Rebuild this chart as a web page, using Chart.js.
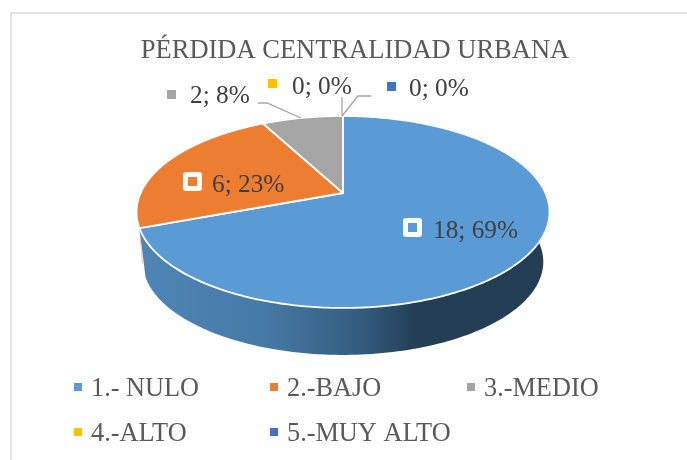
<!DOCTYPE html>
<html>
<head>
<meta charset="utf-8">
<style>html,body{margin:0;padding:0;background:#fff}canvas{display:block}</style>
<script src="https://cdn.jsdelivr.net/npm/chart.js@4"></script>
</head>
<body>
<canvas id="c" width="687" height="460"></canvas>
<script>
const titleText = "PÉRDIDA CENTRALIDAD URBANA";
const categories = ["1.- NULO", "2.-BAJO", "3.-MEDIO", "4.-ALTO", "5.-MUY ALTO"];
const seriesValues = [18, 6, 2, 0, 0];
const percentLabels = ["69%", "23%", "8%", "0%", "0%"];
const sliceColors = ["#5B9BD5", "#ED7D31", "#A5A5A5", "#FFC000", "#4472C4"];

const SERIF = '"Liberation Serif", "Times New Roman", serif';

// perspective of the tilted disc
const RX = 202.4, RY = 92.2, PERSP = 0.198;
const WALL_DROP = 50.4, WALL_SCALE = 0.97;
function proj(cx, cy, a, k, drop) {
  const d = 1 - PERSP * Math.sin(a);
  return [cx + k * RX * Math.cos(a) / d, cy + drop + k * RY * Math.sin(a) / d];
}

const disc3d = {
  id: 'disc3d',
  beforeDraw(chart) {
    // title is centred a little right of the canvas centre
    chart.titleBlock.left = 24;
  },
  beforeDatasetDraw(chart, args) {
    const ctx = chart.ctx;
    const arcs = args.meta.data.map(e => e.getProps(['x','y','startAngle','endAngle']));
    ctx.save();
    // thin remnant of the orange wall
    {
      const p = arcs[1];
      const t = proj(p.x, p.y, p.startAngle, 1, 0);
      const b = proj(p.x, p.y, p.startAngle, 0.985, 36);
      ctx.strokeStyle = '#F6C6A5';
      ctx.lineWidth = 1;
      ctx.beginPath();
      ctx.moveTo(t[0], t[1]);
      ctx.lineTo(b[0], b[1]);
      ctx.stroke();
    }
    // side wall of the largest slice
    {
      const p = arcs[0];
      const n = 200, top = [], low = [];
      for (let s = 0; s <= n; s++) {
        const a = p.startAngle + (p.endAngle - p.startAngle) * s / n;
        top.push(proj(p.x, p.y, a, 1, 0));
        low.push(proj(p.x, p.y, a, WALL_SCALE, WALL_DROP));
      }
      ctx.beginPath();
      top.forEach((q, j) => j ? ctx.lineTo(q[0], q[1]) : ctx.moveTo(q[0], q[1]));
      low.reverse().forEach(q => ctx.lineTo(q[0], q[1]));
      ctx.closePath();
      const g = ctx.createLinearGradient(143, 0, 546, 0);
      g.addColorStop(0, '#4F85B5');
      g.addColorStop(0.3, '#467AA6');
      g.addColorStop(0.55, '#335A7D');
      g.addColorStop(0.68, '#233E55');
      g.addColorStop(1, '#233E55');
      ctx.fillStyle = g;
      ctx.fill();
    }
    // top face
    arcs.forEach((p, i) => {
      if (p.endAngle - p.startAngle < 1e-4) return;
      ctx.beginPath();
      ctx.moveTo(p.x, p.y);
      const n = 300;
      for (let s = 0; s <= n; s++) {
        const a = p.startAngle + (p.endAngle - p.startAngle) * s / n;
        const q = proj(p.x, p.y, a, 1, 0);
        ctx.lineTo(q[0], q[1]);
      }
      ctx.closePath();
      ctx.fillStyle = sliceColors[i];
      ctx.fill();
      ctx.strokeStyle = '#fff';
      ctx.lineWidth = 1.8;
      ctx.lineJoin = 'round';
      ctx.stroke();
    });
    ctx.restore();
    return false;
  },
  afterDraw(chart) {
    const ctx = chart.ctx;
    ctx.save();
    // frame
    ctx.fillStyle = '#E2E2E2';
    ctx.fillRect(10, 12, 2, 448);
    ctx.fillRect(10, 12, 677, 2);

    // leader lines
    ctx.strokeStyle = '#A6A6A6';
    ctx.lineWidth = 1.3;
    [[[258,103],[267,103],[301,118]],
     [[342,97],[342,116]],
     [[371,96],[358,96],[342,116]]].forEach(l => {
      ctx.beginPath();
      l.forEach((q, j) => j ? ctx.lineTo(q[0], q[1]) : ctx.moveTo(q[0], q[1]));
      ctx.stroke();
    });

    // data labels
    ctx.textAlign = 'left';
    ctx.textBaseline = 'alphabetic';
    ctx.font = '25.3px ' + SERIF;
    const lab = [
      {x:433, y:238, mx:408, my:223, boxed:true},
      {x:212, y:192, mx:188, my:177, boxed:true},
      {x:190, y:103, mx:167, my:90},
      {x:292, y:94,  mx:268, my:79},
      {x:409, y:96,  mx:387, my:82}
    ];
    lab.forEach((l, i) => {
      if (l.boxed) {
        ctx.fillStyle = '#fff';
        ctx.beginPath();
        ctx.roundRect(l.mx - 5, l.my - 5, 19, 19, 3);
        ctx.fill();
      }
      ctx.fillStyle = sliceColors[i];
      ctx.fillRect(l.mx, l.my, 9, 9);
      ctx.fillStyle = '#404040';
      ctx.fillText(seriesValues[i] + '; ' + percentLabels[i], l.x, l.y);
    });

    // legend
    ctx.font = '26.3px ' + SERIF;
    const leg = [
      {x:74, y:396}, {x:270, y:396}, {x:467, y:396},
      {x:74, y:441}, {x:270, y:441}
    ];
    leg.forEach((l, i) => {
      ctx.fillStyle = sliceColors[i];
      ctx.fillRect(l.x, l.y - 13, 8, 8);
      ctx.fillStyle = '#595959';
      ctx.fillText(categories[i], l.x + 17, l.y);
    });
    ctx.restore();
  }
};

new Chart(document.getElementById('c'), {
  type: 'pie',
  data: {
    labels: categories,
    datasets: [{ data: seriesValues, backgroundColor: sliceColors, borderColor: '#fff', borderWidth: 1.5 }]
  },
  options: {
    responsive: false,
    animation: false,
    layout: { padding: { top: 0, left: 0, right: 1, bottom: 143.8 } },
    plugins: {
      legend: { display: false },
      tooltip: { enabled: false },
      title: {
        display: true,
        text: titleText,
        color: '#595959',
        font: { family: SERIF, size: 26.5, weight: 'normal', lineHeight: 1.2 },
        padding: { top: 35.5, bottom: 2.5 }
      }
    }
  },
  plugins: [disc3d]
});
</script>
</body>
</html>
